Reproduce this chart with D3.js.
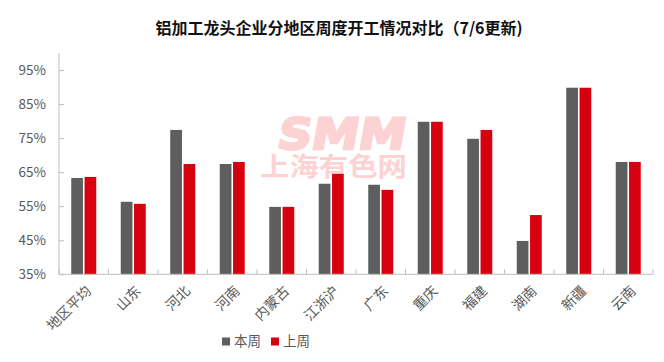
<!DOCTYPE html>
<html>
<head>
<meta charset="utf-8">
<script src="https://cdn.jsdelivr.net/npm/d3@7/dist/d3.min.js"></script>
<style>
  body { margin: 0; background: #fff; }
  svg { display: block; font-family: "Noto Sans CJK SC", "Noto Sans", sans-serif; }
</style>
</head>
<body>
<svg id="chart" width="664" height="362"></svg>
<script>
// data
var categories = ["地区平均", "山东", "河北", "河南", "内蒙古", "江浙沪", "广东", "重庆", "福建", "湖南", "新疆", "云南"];
var thisWeek = [63.3, 56.3, 77.4, 67.4, 54.8, 61.6, 61.3, 79.8, 74.8, 44.8, 89.8, 68.0];
var lastWeek = [63.6, 55.7, 67.4, 68.0, 54.8, 64.5, 59.8, 79.8, 77.4, 52.4, 89.8, 68.0];
var seriesNames = ["本周", "上周"];
var yTicks = [35, 45, 55, 65, 75, 85, 95];

var colors = { "本周": "#5e5e5e", "上周": "#d7000f" };
var axisColor = "#bfbfbf";
var textColor = "#595959";

var svg = d3.select("#chart");
var plotLeft = 59, plotRight = 653, plotTop = 53, plotBottom = 274.3;

var x0 = d3.scaleBand().domain(categories).range([plotLeft, plotRight]);
var x1 = d3.scaleBand().domain(seriesNames)
    .range([12.25, x0.bandwidth() - 12.25]).paddingInner(0.12);
var y = d3.scaleLinear().domain([35, 100]).range([plotBottom, plotTop]);

// title
svg.append("text")
    .attr("x", 339).attr("y", 34)
    .attr("text-anchor", "middle")
    .style("font-size", "16px").style("font-weight", "bold").style("fill", "#111")
    .text("铝加工龙头企业分地区周度开工情况对比（7/6更新)");

// watermark
var wm = svg.append("g").style("fill", "#fdd2d2");
wm.append("text")
    .attr("x", 276).attr("y", 149)
    .attr("textLength", 128).attr("lengthAdjust", "spacingAndGlyphs")
    .attr("transform", "skewX(-10) translate(26,0)")
    .style("font-family", "'DejaVu Sans', sans-serif")
    .style("font-size", "43px").style("font-weight", "bold")
    .style("stroke", "#fdd2d2").style("stroke-width", 2.5)
    .text("SMM");
wm.append("text")
    .attr("x", 260).attr("y", 176)
    .attr("textLength", 147).attr("lengthAdjust", "spacingAndGlyphs")
    .style("font-size", "26px").style("font-weight", "bold")
    .text("上海有色网");

// bars
var rows = categories.map(function (c, i) {
    return { cat: c, vals: [{ s: "本周", v: thisWeek[i] }, { s: "上周", v: lastWeek[i] }] };
});

var groups = svg.append("g").selectAll("g")
    .data(rows).enter().append("g")
    .attr("transform", function (d) { return "translate(" + x0(d.cat) + ",0)"; });

groups.selectAll("rect")
    .data(function (d) { return d.vals; })
    .enter().append("rect")
    .attr("x", function (d) { return x1(d.s); })
    .attr("width", x1.bandwidth())
    .attr("y", function (d) { return y(d.v); })
    .attr("height", function (d) { return plotBottom - y(d.v); })
    .style("fill", function (d) { return colors[d.s]; });

// y axis
var yAxis = svg.append("g")
    .attr("transform", "translate(" + plotLeft + ",0)")
    .call(d3.axisRight(y).tickValues(yTicks).tickSize(5).tickFormat(""));
yAxis.select(".domain").attr("stroke", axisColor).attr("d", "M0," + plotTop + "V" + plotBottom);
yAxis.selectAll(".tick line").attr("stroke", axisColor);

svg.append("g").selectAll("text")
    .data(yTicks).enter().append("text")
    .attr("x", 46).attr("y", function (d) { return y(d); })
    .attr("dy", "0.36em")
    .attr("text-anchor", "end")
    .style("font-size", "13.5px").style("fill", textColor)
    .text(function (d) { return d + "%"; });

// x axis
var xAxis = svg.append("g")
    .attr("transform", "translate(0," + plotBottom + ")");
xAxis.append("line")
    .attr("x1", plotLeft).attr("x2", plotRight)
    .attr("stroke", axisColor);
xAxis.selectAll("line.tk")
    .data(categories.concat(["end"])).enter().append("line")
    .attr("class", "tk")
    .attr("x1", function (d, i) { return plotLeft + i * x0.step(); })
    .attr("x2", function (d, i) { return plotLeft + i * x0.step(); })
    .attr("y1", 0).attr("y2", -5)
    .attr("stroke", axisColor);

svg.append("g").selectAll("text")
    .data(categories).enter().append("text")
    .attr("transform", function (d) {
        return "translate(" + (x0(d) + x0.bandwidth() / 2 + 5) + "," + (plotBottom + 14) + ") rotate(-45)";
    })
    .attr("text-anchor", "end")
    .attr("dy", "0.35em")
    .style("font-size", "14px").style("fill", textColor)
    .text(function (d) { return d; });

// legend
var legend = svg.append("g");
var legendX = [222, 271];
seriesNames.forEach(function (s, i) {
    legend.append("rect")
        .attr("x", legendX[i]).attr("y", 337.5)
        .attr("width", 8).attr("height", 8)
        .style("fill", colors[s]);
    legend.append("text")
        .attr("x", legendX[i] + 12).attr("y", 341.5)
        .attr("dy", "0.36em")
        .style("font-size", "13.5px").style("fill", textColor)
        .text(s);
});
</script>
</body>
</html>
